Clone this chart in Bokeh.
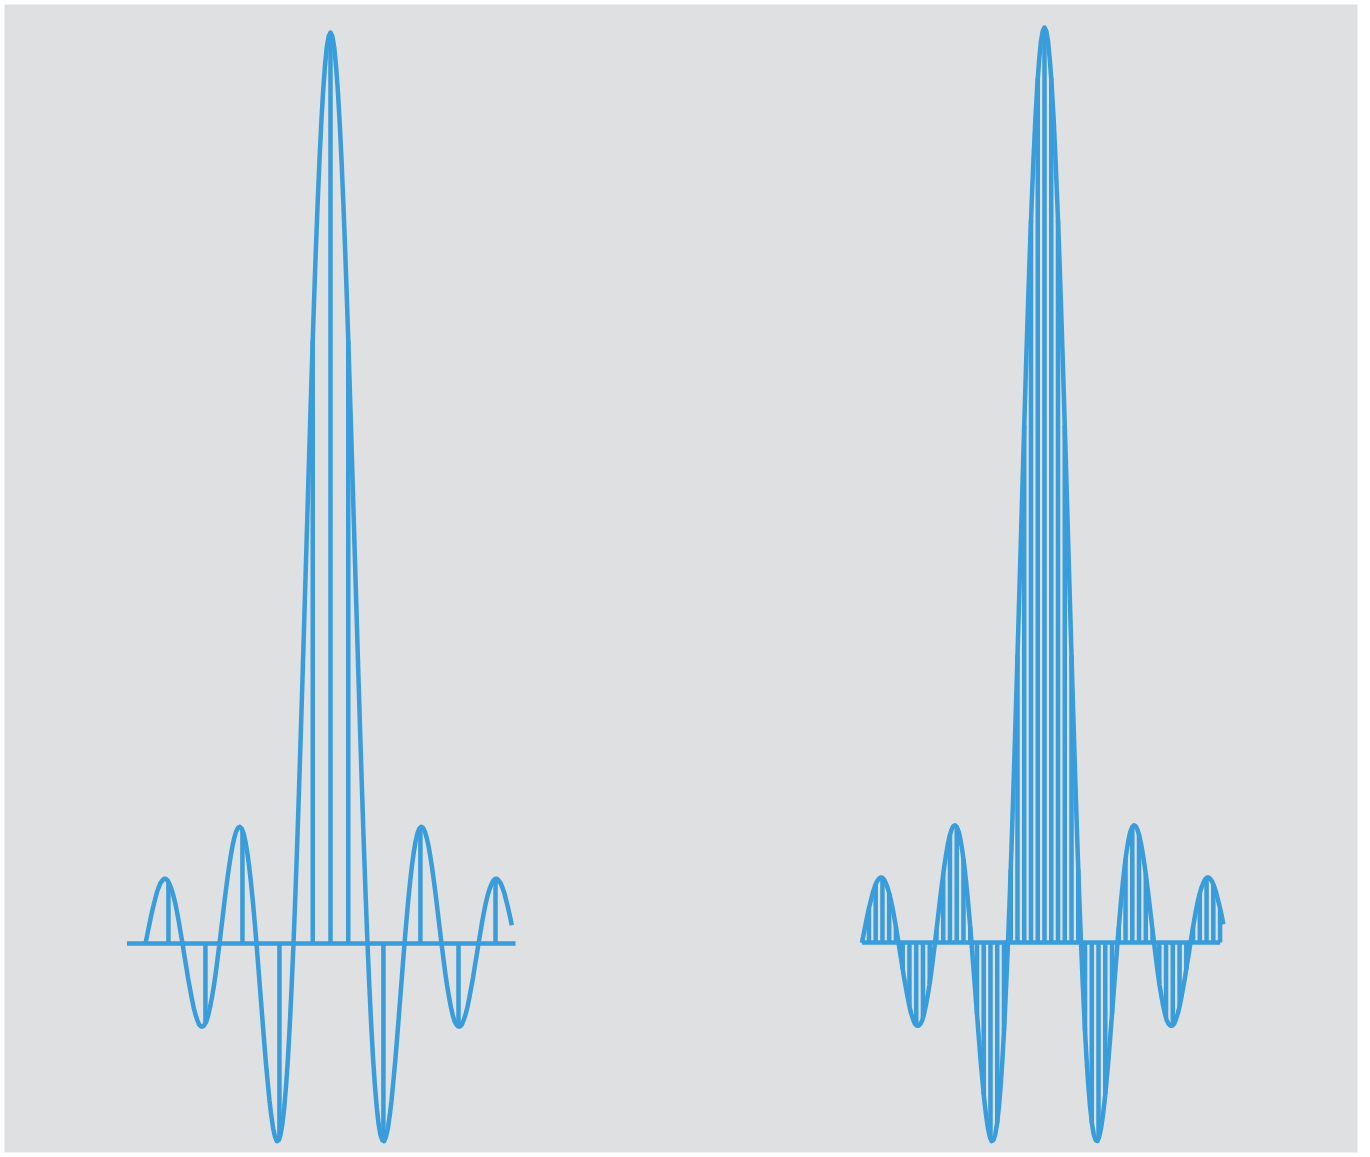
from bokeh.plotting import figure
from bokeh.models import Range1d
from bokeh.embed import file_html
from bokeh.resources import INLINE

# Continuous curve (x in units of zero-crossing spacing, y relative to main peak)
curve_x = [-5.00, -4.95, -4.90, -4.85, -4.80, -4.75, -4.70, -4.65, -4.60, -4.55,
           -4.50, -4.45, -4.40, -4.35, -4.30, -4.25, -4.20, -4.15, -4.10, -4.05,
           -4.00, -3.95, -3.90, -3.85, -3.80, -3.75, -3.70, -3.65, -3.60, -3.55,
           -3.50, -3.45, -3.40, -3.35, -3.30, -3.25, -3.20, -3.15, -3.10, -3.05,
           -3.00, -2.95, -2.90, -2.85, -2.80, -2.75, -2.70, -2.65, -2.60, -2.55,
           -2.50, -2.45, -2.40, -2.35, -2.30, -2.25, -2.20, -2.15, -2.10, -2.05,
           -2.00, -1.95, -1.90, -1.85, -1.80, -1.75, -1.70, -1.65, -1.60, -1.55,
           -1.50, -1.45, -1.40, -1.35, -1.30, -1.25, -1.20, -1.15, -1.10, -1.05,
           -1.00, -0.95, -0.90, -0.85, -0.80, -0.75, -0.70, -0.65, -0.60, -0.55,
           -0.50, -0.45, -0.40, -0.35, -0.30, -0.25, -0.20, -0.15, -0.10, -0.05,
           0.00,
           0.05, 0.10, 0.15, 0.20, 0.25, 0.30, 0.35, 0.40, 0.45, 0.50,
           0.55, 0.60, 0.65, 0.70, 0.75, 0.80, 0.85, 0.90, 0.95, 1.00,
           1.05, 1.10, 1.15, 1.20, 1.25, 1.30, 1.35, 1.40, 1.45, 1.50,
           1.55, 1.60, 1.65, 1.70, 1.75, 1.80, 1.85, 1.90, 1.95, 2.00,
           2.05, 2.10, 2.15, 2.20, 2.25, 2.30, 2.35, 2.40, 2.45, 2.50,
           2.55, 2.60, 2.65, 2.70, 2.75, 2.80, 2.85, 2.90, 2.95, 3.00,
           3.05, 3.10, 3.15, 3.20, 3.25, 3.30, 3.35, 3.40, 3.45, 3.50,
           3.55, 3.60, 3.65, 3.70, 3.75, 3.80, 3.85, 3.90, 3.95, 4.00,
           4.05, 4.10, 4.15, 4.20, 4.25, 4.30, 4.35, 4.40, 4.45, 4.50,
           4.55, 4.60, 4.65, 4.70, 4.75, 4.80, 4.85, 4.90]
curve_y = [0.000, 0.010, 0.020, 0.030, 0.039, 0.047, 0.055, 0.061, 0.066, 0.069,
           0.071, 0.071, 0.069, 0.065, 0.060, 0.053, 0.045, 0.035, 0.024, 0.012,
           0.000, -0.013, -0.025, -0.038, -0.049, -0.060, -0.070, -0.078, -0.084, -0.089,
           -0.091, -0.091, -0.089, -0.085, -0.078, -0.069, -0.058, -0.046, -0.032, -0.016,
           0.000, 0.017, 0.034, 0.051, 0.067, 0.082, 0.095, 0.107, 0.116, 0.123,
           0.127, 0.128, 0.126, 0.121, 0.112, 0.100, 0.085, 0.067, 0.047, 0.024,
           0.000, -0.026, -0.052, -0.078, -0.104, -0.129, -0.151, -0.172, -0.189, -0.203,
           -0.212, -0.217, -0.216, -0.210, -0.198, -0.180, -0.156, -0.126, -0.089, -0.047,
           0.000, 0.052, 0.109, 0.170, 0.234, 0.300, 0.368, 0.436, 0.505, 0.572,
           0.637, 0.699, 0.757, 0.810, 0.858, 0.900, 0.935, 0.963, 0.984, 0.996,
           1.000,
           0.996, 0.984, 0.963, 0.935, 0.900, 0.858, 0.810, 0.757, 0.699, 0.637,
           0.572, 0.505, 0.436, 0.368, 0.300, 0.234, 0.170, 0.109, 0.052, 0.000,
           -0.047, -0.089, -0.126, -0.156, -0.180, -0.198, -0.210, -0.216, -0.217, -0.212,
           -0.203, -0.189, -0.172, -0.151, -0.129, -0.104, -0.078, -0.052, -0.026, 0.000,
           0.024, 0.047, 0.067, 0.085, 0.100, 0.112, 0.121, 0.126, 0.128, 0.127,
           0.123, 0.116, 0.107, 0.095, 0.082, 0.067, 0.051, 0.034, 0.017, 0.000,
           -0.016, -0.032, -0.046, -0.058, -0.069, -0.078, -0.085, -0.089, -0.091, -0.091,
           -0.089, -0.084, -0.078, -0.070, -0.060, -0.049, -0.038, -0.025, -0.013, 0.000,
           0.012, 0.024, 0.035, 0.045, 0.053, 0.060, 0.065, 0.069, 0.071, 0.071,
           0.069, 0.066, 0.061, 0.055, 0.047, 0.039, 0.030, 0.020]

# Left panel: coarse samples
left_sample_x = [-4.38, -3.38, -2.38, -1.38, -0.48, 0.0, 0.48, 1.43, 2.43, 3.46, 4.46]
left_sample_y = [0.068, -0.088, 0.124, -0.215, 0.662, 1.000, 0.662, -0.217, 0.128, -0.091, 0.071]
left_base_x = [-5.5, 5.0]

# Right panel: dense samples
right_sample_x = [-4.995, -4.81, -4.625, -4.44, -4.255, -4.07, -3.885, -3.7, -3.515, -3.33,
                  -3.145, -2.96, -2.775, -2.59, -2.405, -2.22, -2.035, -1.85, -1.665, -1.48,
                  -1.295, -1.11, -0.925, -0.74, -0.555, -0.37, -0.185,
                  0.0,
                  0.185, 0.37, 0.555, 0.74, 0.925, 1.11, 1.295, 1.48, 1.665, 1.85,
                  2.035, 2.22, 2.405, 2.59, 2.775, 2.96, 3.145, 3.33, 3.515, 3.7,
                  3.885, 4.07, 4.255, 4.44, 4.625, 4.81]
right_sample_y = [0.001, 0.037, 0.064, 0.070, 0.054, 0.017, -0.029, -0.070, -0.090, -0.082,
                  -0.045, 0.013, 0.075, 0.118, 0.127, 0.091, 0.017, -0.078, -0.166, -0.215,
                  -0.197, -0.097, 0.080, 0.314, 0.565, 0.790, 0.945,
                  1.000,
                  0.945, 0.790, 0.565, 0.314, 0.080, -0.097, -0.197, -0.215, -0.166, -0.078,
                  0.017, 0.091, 0.127, 0.118, 0.075, 0.013, -0.045, -0.082, -0.090, -0.070,
                  -0.029, 0.017, 0.054, 0.070, 0.064, 0.037]
right_base_x = [-5.0, 4.81]

BLUE = "#399cdb"
GRAY = "#dfe0e2"

# frame occupies page pixels x 4..1357, y 4..1152
p = figure(width=1370, height=1157, output_backend="svg", toolbar_location=None,
           x_range=Range1d((4 - 330) / 37, (1357 - 330) / 37),
           y_range=Range1d((943 - 1152) / 911, (943 - 4) / 911),
           x_axis_type=None, y_axis_type=None,
           min_border_left=4, min_border_top=4, min_border_right=13, min_border_bottom=5)
p.extra_x_ranges = {"r": Range1d((4 - 1044) / 36.5, (1357 - 1044) / 36.5)}
p.extra_y_ranges = {"r": Range1d((942 - 1152) / 915, (942 - 4) / 915)}
p.background_fill_color = GRAY
p.border_fill_color = "white"
p.outline_line_color = None
p.grid.visible = False

# left panel
p.segment(x0=left_sample_x, y0=[0] * len(left_sample_x), x1=left_sample_x, y1=left_sample_y,
          line_color=BLUE, line_width=4.5)
p.line(left_base_x, [0, 0], line_color=BLUE, line_width=4.5)
p.line(curve_x, curve_y, line_color=BLUE, line_width=4.5, line_join="round")

# right panel
p.segment(x0=right_sample_x, y0=[0] * len(right_sample_x), x1=right_sample_x, y1=right_sample_y,
          line_color=BLUE, line_width=4.5, x_range_name="r", y_range_name="r")
p.line(right_base_x, [0, 0], line_color=BLUE, line_width=4.5, x_range_name="r", y_range_name="r")
p.line(curve_x, curve_y, line_color=BLUE, line_width=4.5, line_join="round",
       x_range_name="r", y_range_name="r")

open("out.html", "w").write(file_html(p, INLINE))
